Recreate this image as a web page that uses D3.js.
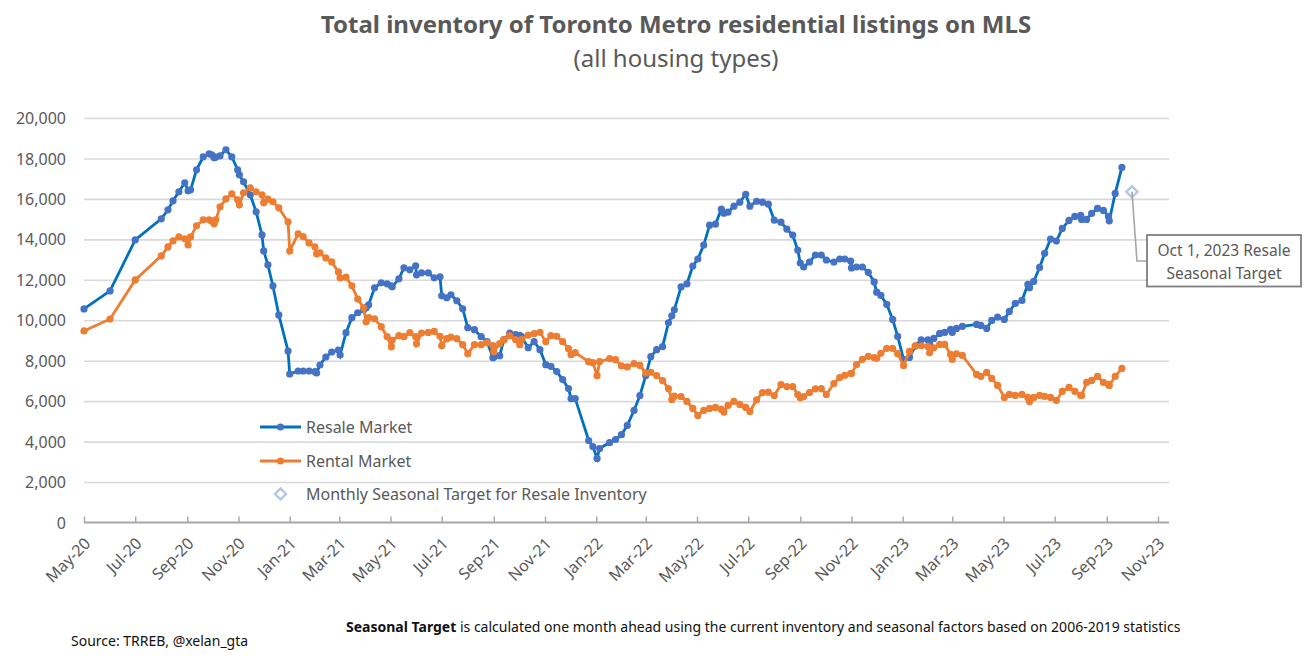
<!DOCTYPE html>
<html>
<head>
<meta charset="utf-8">
<script src="https://cdn.jsdelivr.net/npm/d3@7"></script>
<style>
  body { margin: 0; background: #fff; }
  text { font-family: "Noto Sans", sans-serif; fill: #595959; }
</style>
</head>
<body>
<svg id="chart" width="1311" height="658"></svg>
<script>
// days since the first reading (May 1, 2020)
var startDate = new Date(Date.UTC(2020, 4, 1));
var dayOffsets = [
  0, 31, 61, 92, 100, 106, 113, 120, 124, 127,
  134, 142, 149, 152, 155, 157, 162, 169, 176, 183,
  185, 190, 198, 205, 212, 214, 219, 225, 232, 243,
  245, 255, 261, 268, 275, 277, 281, 288, 295, 303,
  305, 312, 319, 326, 333, 336, 339, 346, 354, 361,
  366, 367, 375, 381, 388, 395, 396, 402, 410, 417,
  424, 426, 432, 437, 444, 451, 457, 465, 473, 480,
  487, 488, 495, 500, 507, 514, 519, 521, 529, 536,
  543, 550, 556, 563, 570, 577, 580, 585, 601, 606,
  611, 614, 626, 633, 640, 647, 655, 662, 669, 675,
  682, 689, 696, 700, 703, 711, 718, 725, 731, 738,
  745, 752, 759, 762, 767, 774, 781, 788, 793, 801,
  808, 815, 822, 830, 837, 844, 850, 853, 857, 864,
  871, 878, 884, 893, 900, 906, 913, 914, 920, 927,
  934, 941, 944, 949, 956, 963, 969, 976, 983, 990,
  997, 1005, 1007, 1012, 1019, 1025, 1032, 1034, 1039, 1046,
  1063, 1068, 1075, 1081, 1088, 1096, 1102, 1109, 1117, 1124,
  1126, 1131, 1138, 1144, 1151, 1158, 1165, 1173, 1180, 1187,
  1188, 1194, 1200, 1207, 1214, 1220, 1221, 1228, 1236
];
var resaleValues = [
  10559, 11450, 13974, 15013, 15459, 15904, 16350, 16795, 16400, 16449,
  17439, 18082, 18231, 18181, 18033, 18066, 18132, 18429, 18082, 17439,
  17191, 16845, 16201, 15360, 14221, 13429, 12736, 11697, 10261, 8480,
  7341, 7490, 7490, 7490, 7456, 7391, 7787, 8183, 8430, 8529,
  8281, 9384, 10125, 10371, 10519, 10620, 10766, 11605, 11852, 11803,
  11700, 11654, 12049, 12592, 12493, 12691, 12247, 12345, 12345, 12100,
  12148, 11210, 11112, 11260, 10964, 10569, 9631, 9533, 9187, 8940,
  8150, 8170, 8249, 9039, 9368, 9286, 9250, 9187, 8644, 8940,
  8545, 7805, 7723, 7460, 7065, 6621, 6127, 6127, 4055, 3758,
  3166, 3660, 3956, 4104, 4341, 4802, 5540, 6279, 7264, 8200,
  8545, 8693, 9875, 10220, 10516, 11649, 11796, 12683, 13028, 13718,
  14703, 14752, 15491, 15294, 15343, 15639, 15836, 16230, 15639, 15885,
  15836, 15737, 14949, 14851, 14506, 14210, 13471, 12831, 12634, 12880,
  13225, 13225, 12979, 12880, 13028, 13028, 12929, 12585, 12634, 12634,
  12371, 11895, 11386, 11227, 10782, 10040, 9200, 8063, 8161, 8722,
  9035, 9035, 8854, 9101, 9348, 9397, 9546, 9397, 9595, 9694,
  9793, 9743, 9595, 9991, 10156, 10040, 10436, 10831, 10979, 11771,
  11606, 11919, 12611, 13303, 14012, 13913, 14539, 14935, 15132, 15182,
  14984, 14984, 15281, 15528, 15429, 15132, 14918, 16270, 17555
];
var rentalValues = [
  9470, 10063, 11994, 13182, 13627, 13924, 14122, 14024, 13726, 14122,
  14667, 14964, 14964, 14898, 14766, 14964, 15607, 16003, 16251, 15954,
  15706, 16300, 16548, 16350, 16201, 15805, 15987, 15855, 15558, 14865,
  13429, 14271, 14139, 13825, 13627, 13281, 13330, 13083, 12885, 12390,
  12093, 12131, 11704, 11046, 10618, 9927, 10125, 10075, 9680, 9187,
  8694, 9006, 9236, 9187, 9385, 9187, 8842, 9368, 9400, 9450,
  9204, 8743, 9088, 9170, 9088, 8792, 8348, 8792, 8792, 8891,
  8743, 8447, 8842, 9039, 9236, 9039, 8792, 9039, 9269, 9335,
  9401, 8940, 9236, 9204, 8940, 8595, 8299, 8397, 7953, 7904,
  7262, 7953, 8101, 8052, 7750, 7691, 7856, 7773, 7396, 7429,
  7264, 7018, 6624, 6082, 6247, 6230, 5984, 5639, 5294, 5540,
  5639, 5688, 5590, 5459, 5787, 5984, 5836, 5688, 5491, 6066,
  6427, 6444, 6279, 6821, 6723, 6723, 6329, 6164, 6230, 6427,
  6608, 6624, 6329, 6871, 7166, 7281, 7363, 7363, 7806, 8069,
  8217, 8151, 8118, 8365, 8611, 8611, 8348, 7766, 8458, 8738,
  8738, 8705, 8392, 8639, 8804, 8804, 8310, 8063, 8343, 8260,
  7321, 7222, 7420, 7123, 6777, 6184, 6332, 6282, 6332, 6184,
  5986, 6184, 6282, 6233, 6184, 6036, 6480, 6678, 6480, 6282,
  6282, 6925, 7024, 7222, 6925, 6826, 6777, 7222, 7618
];
var targetDates = [new Date(Date.UTC(2023, 9, 1))];
var targetValues = [16352];
var yTicks = d3.range(0, 20001, 2000);
var legendLabels = ['Resale Market', 'Rental Market', 'Monthly Seasonal Target for Resale Inventory'];

var dates = dayOffsets.map(function (d) { return d3.utcDay.offset(startDate, d); });

var svg = d3.select('#chart');
var x = d3.scaleUtc().domain([startDate, new Date(Date.UTC(2023, 10, 1))]).range([84, 1158]);
var y = d3.scaleLinear().domain([0, 20000]).range([522.5, 118]);
var plotRight = 1169;

// gridlines
svg.append('g').attr('transform', 'translate(84,0)')
  .call(d3.axisLeft(y).tickValues(yTicks.slice(1)).tickSize(-(plotRight - 84)).tickFormat(''))
  .call(function (g) { g.select('.domain').remove(); })
  .selectAll('line').attr('stroke', '#d9d9d9').attr('stroke-width', 1.6);

// y labels
var yAxis = svg.append('g').attr('transform', 'translate(84,0)')
  .call(d3.axisLeft(y).tickValues(yTicks).tickSize(0).tickPadding(18).tickFormat(d3.format(',')));
yAxis.select('.domain').remove();
yAxis.selectAll('text').style('font-size', '16px').attr('dy', '0.35em');

// x axis, ticks point up into the plot
var xAxis = svg.append('g').attr('transform', 'translate(0,522.5)')
  .call(d3.axisBottom(x)
    .tickValues(d3.utcMonth.range(startDate, new Date(Date.UTC(2023, 10, 2)), 2))
    .tickSize(-6)
    .tickFormat(d3.utcFormat('%b-%y')));
xAxis.select('.domain').attr('d', 'M84,0H' + plotRight).attr('stroke', '#a6a6a6').attr('stroke-width', 2.2);
xAxis.selectAll('line').attr('stroke', '#a6a6a6').attr('stroke-width', 1.4);
xAxis.selectAll('text')
  .style('font-size', '16px')
  .attr('text-anchor', 'end')
  .attr('dy', null)
  .attr('y', 0)
  .attr('transform', 'translate(7,22) rotate(-45)');

function drawSeries(values, lineColour, dotColour) {
  var line = d3.line()
    .x(function (d, i) { return x(dates[i]); })
    .y(function (d) { return y(d); });
  svg.append('path').attr('d', line(values))
    .attr('fill', 'none').attr('stroke', lineColour).attr('stroke-width', 2.8);
  svg.append('g').selectAll('circle').data(values).join('circle')
    .attr('cx', function (d, i) { return x(dates[i]); })
    .attr('cy', function (d) { return y(d); })
    .attr('r', 3.6)
    .attr('fill', dotColour);
}
drawSeries(resaleValues, '#0070c0', '#4472c4');
drawSeries(rentalValues, '#ed7d31', '#ed7d31');

var diamond = d3.symbol().type(d3.symbolSquare).size(62);

// seasonal target
svg.append('g').selectAll('path').data(targetValues).join('path')
  .attr('d', diamond)
  .attr('transform', function (d, i) { return 'translate(' + x(targetDates[i]) + ',' + y(d) + ') rotate(45)'; })
  .attr('fill', '#fff').attr('stroke', '#b4c7e7').attr('stroke-width', 2.4);

// callout
var tx = x(targetDates[0]), ty = y(targetValues[0]);
svg.append('path').attr('d', 'M' + tx + ',' + ty + 'L' + (tx + 5) + ',261H1147')
  .attr('fill', 'none').attr('stroke', '#a6a6a6').attr('stroke-width', 1.6);
svg.append('rect').attr('x', 1147).attr('y', 235).attr('width', 154).attr('height', 51.5)
  .attr('fill', '#fff').attr('stroke', '#7f7f7f').attr('stroke-width', 1.8);
svg.append('text').attr('x', 1224).attr('y', 256).attr('text-anchor', 'middle')
  .style('font-size', '15.5px').text('Oct 1, 2023 Resale');
svg.append('text').attr('x', 1224).attr('y', 279).attr('text-anchor', 'middle')
  .style('font-size', '15.5px').text('Seasonal Target');

// legend
var legendY = [427, 461, 494];
[['#0070c0', '#4472c4'], ['#ed7d31', '#ed7d31']].forEach(function (c, i) {
  svg.append('line').attr('x1', 260).attr('x2', 301).attr('y1', legendY[i]).attr('y2', legendY[i])
    .attr('stroke', c[0]).attr('stroke-width', 2.8);
  svg.append('circle').attr('cx', 280.5).attr('cy', legendY[i]).attr('r', 3.6).attr('fill', c[1]);
});
svg.append('path').attr('d', diamond)
  .attr('transform', 'translate(280.5,' + legendY[2] + ') rotate(45)')
  .attr('fill', '#fff').attr('stroke', '#b4c7e7').attr('stroke-width', 2.4);
svg.append('g').selectAll('text').data(legendLabels).join('text')
  .attr('x', 306)
  .attr('y', function (d, i) { return legendY[i] + 6; })
  .style('font-size', '16px')
  .text(function (d) { return d; });

// titles
svg.append('text').attr('x', 676).attr('y', 33).attr('text-anchor', 'middle')
  .style('font-size', '24px').style('font-weight', 700).text('Total inventory of Toronto Metro residential listings on MLS');
svg.append('text').attr('x', 676).attr('y', 67).attr('text-anchor', 'middle')
  .style('font-size', '24px').text('(all housing types)');

// footnotes
var note = svg.append('text').attr('x', 346).attr('y', 632).style('font-size', '14px').style('fill', '#111');
note.append('tspan').style('font-weight', 700).style('fill', '#111').text('Seasonal Target');
note.append('tspan').style('fill', '#111').text(' is calculated one month ahead using the current inventory and seasonal factors based on 2006-2019 statistics');
svg.append('text').attr('x', 71).attr('y', 646).style('font-size', '14px').style('fill', '#111')
  .text('Source: TRREB, @xelan_gta');
</script>
</body>
</html>
